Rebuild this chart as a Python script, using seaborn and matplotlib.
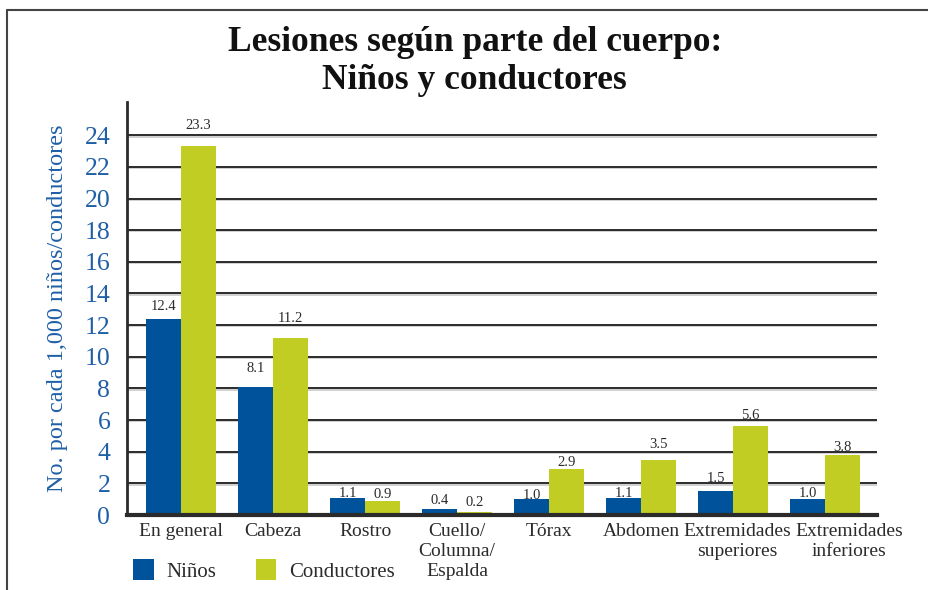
#!/usr/bin/env python3
"""Lesiones según parte del cuerpo: niños y conductores (barras agrupadas)."""

import pandas as pd
import matplotlib.pyplot as plt
import matplotlib.transforms as mtransforms
from matplotlib.lines import Line2D
import seaborn as sns

# Datos del gráfico
categorias = ["En general", "Cabeza", "Rostro", "Cuello/\nColumna/\nEspalda",
              "Tórax", "Abdomen", "Extremidades\nsuperiores", "Extremidades\ninferiores"]
ninos = [12.4, 8.1, 1.1, 0.4, 1.0, 1.1, 1.5, 1.0]
conductores = [23.3, 11.2, 0.9, 0.2, 2.9, 3.5, 5.6, 3.8]
series = ["Niños", "Conductores"]
y_ticks = list(range(0, 25, 2))

# separación (puntos) entre la barra y su etiqueta, como en el original
sep_ninos = [9, 13.3, 3.2, 6, 3.0, 3, 9.3, 4.0]
sep_conductores = [15, 13.7, 4.2, 7, 5.0, 11, 8, 5.6]

AZUL = "#00529b"
VERDE = "#c1cd23"
TEXTO_AZUL = "#1f5fa6"
GRIS = "#2b2b2b"

df = pd.DataFrame({
    "categoria": categorias * 2,
    "valor": ninos + conductores,
    "serie": [series[0]] * len(ninos) + [series[1]] * len(conductores),
})

sns.set_style("white")
plt.rcParams["font.family"] = ["Liberation Serif", "DejaVu Serif"]

fig = plt.figure(figsize=(9.29, 5.9), dpi=100)
ax = fig.add_axes([0.1367, 0.1271, 0.8073, 0.70])

sns.barplot(data=df, x="categoria", y="valor", hue="serie",
            palette=[AZUL, VERDE], width=0.76, gap=0, saturation=1,
            linewidth=0, ax=ax, legend=True)

# Etiquetas de valor sobre las barras
for cont, seps in zip(ax.containers, [sep_ninos, sep_conductores]):
    for b, sep in zip(cont, seps):
        h = b.get_height()
        ax.annotate(f"{h:.1f}", xy=(b.get_x() + b.get_width() / 2, h),
                    xytext=(0, sep), textcoords="offset points",
                    ha="center", va="center", fontsize=10.5, color=GRIS,
                    zorder=5)

ax.set_ylim(0, 26.1)
ax.set_xlim(-0.59, 7.565)
ax.set_yticks(y_ticks)
ax.set_yticklabels([str(t) for t in y_ticks], color=TEXTO_AZUL, fontsize=18.5)
ax.tick_params(axis="y", length=0, pad=12)
ax.tick_params(axis="x", length=0, pad=6, labelsize=14, labelcolor=GRIS)
ax.set_xlabel("")
ax.set_ylabel("No. por cada 1,000 niños/conductores", color=TEXTO_AZUL,
              fontsize=17.5, labelpad=12)

# las dos últimas etiquetas del eje x están algo desplazadas a la derecha
for lab, dx in zip(ax.get_xticklabels()[-2:], [0.04, 0.24]):
    lab.set_transform(lab.get_transform() +
                      mtransforms.ScaledTranslation(dx, 0, fig.dpi_scale_trans))

# Líneas de cuadrícula horizontales
for t in y_ticks[1:]:
    ax.axhline(t - 0.08, color="#c8c8c8", lw=1.2, zorder=0.4)
    ax.axhline(t, color=GRIS, lw=1.4, zorder=0.5)
for b in ax.patches:
    b.set_zorder(2)

for s in ["top", "right"]:
    ax.spines[s].set_visible(False)
ax.spines["left"].set_color(GRIS)
ax.spines["left"].set_linewidth(2)
ax.spines["bottom"].set_color(GRIS)
ax.spines["bottom"].set_linewidth(3)

# Leyenda abajo a la izquierda
handles, labels = ax.get_legend_handles_labels()
ax.legend_.remove()
fig.legend(handles, labels, loc="lower left", bbox_to_anchor=(0.134, 0.0),
           ncol=2, frameon=False, fontsize=15, handlelength=1.0,
           handleheight=1.2, handletextpad=0.6, columnspacing=1.9,
           borderaxespad=0, labelcolor=GRIS)

# Título
fig.text(0.511, 0.895, "Lesiones según parte del cuerpo:\nNiños y conductores",
         ha="center", va="center", fontsize=25.5, fontweight="bold",
         linespacing=1.2, color="#111111")

# Marco exterior
fig.add_artist(Line2D([0.0075, 0.0075], [0.0, 0.983], color="#444444", lw=1.5,
                      transform=fig.transFigure))
fig.add_artist(Line2D([0.0075, 1.0], [0.983, 0.983], color="#444444", lw=1.5,
                      transform=fig.transFigure))

fig.savefig("out.png", dpi=100)
